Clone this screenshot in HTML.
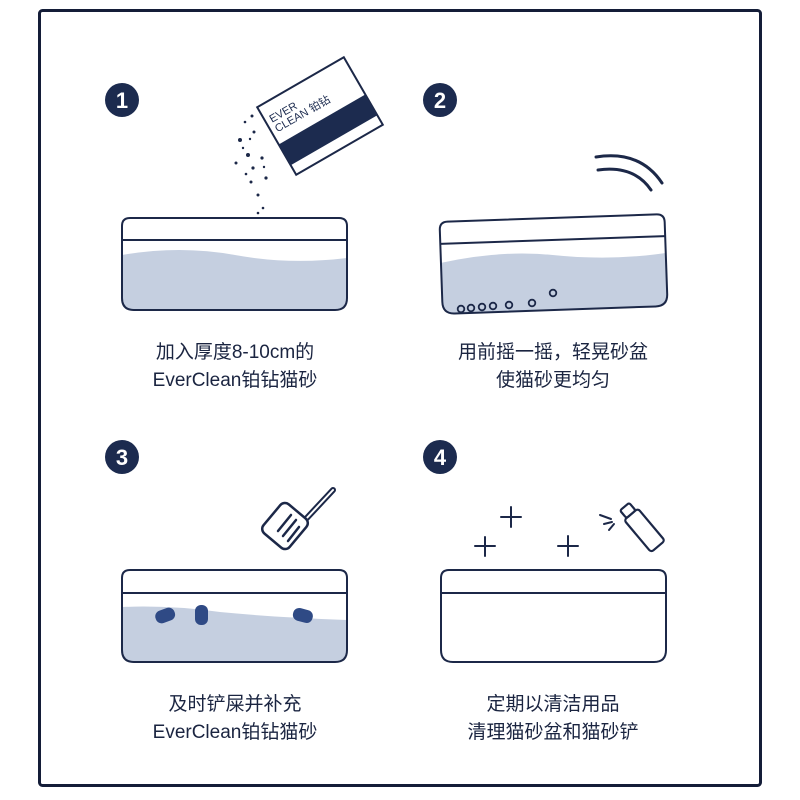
<!DOCTYPE html>
<html><head><meta charset="utf-8"><style>
html,body{margin:0;padding:0;background:#fff;width:800px;height:800px;overflow:hidden}
svg{display:block}
text{font-family:"Liberation Sans","Noto Sans CJK SC",sans-serif}
</style></head><body>
<svg width="800" height="800" viewBox="0 0 800 800" xmlns="http://www.w3.org/2000/svg">
<rect x="39.5" y="10.5" width="721" height="775" rx="3" fill="#fff" stroke="#141d38" stroke-width="3"/>
<g fill="#1c2b4f">
<circle cx="122" cy="100" r="17"/><circle cx="440" cy="100" r="17"/>
<circle cx="122" cy="457" r="17"/><circle cx="440" cy="457" r="17"/>
</g>
<g fill="#fff" font-size="22" font-weight="bold" text-anchor="middle">
<text x="122" y="108">1</text><text x="440" y="108">2</text>
<text x="122" y="465">3</text><text x="440" y="465">4</text>
</g>
<!-- box1 -->
<g stroke="#1c2848" stroke-width="2" fill="none">
<path d="M122,255 Q180,245 235,255 Q290,265 347,258 L347,298 Q347,310 335,310 L134,310 Q122,310 122,298 Z" fill="#c5cfe0" stroke="none"/>
<path d="M122,226 Q122,218 130,218 L339,218 Q347,218 347,226 L347,298 Q347,310 335,310 L134,310 Q122,310 122,298 Z"/>
<line x1="122" y1="240" x2="347" y2="240"/>
</g>
<!-- bag -->
<g transform="translate(320,116) rotate(-30)">
<rect x="-50" y="-39" width="100" height="78" fill="#fff" stroke="#1c2848" stroke-width="2"/>
<rect x="-50" y="4" width="100" height="24" fill="#1c2b4f"/>
<text x="-45" y="-18" font-size="11" fill="#1c2b4f" font-family="Liberation Serif,serif">EVER</text>
<text x="-45" y="-7" font-size="11" fill="#1c2b4f" font-family="Liberation Serif,serif">CLEAN 铂钻</text>
</g>
<g fill="#1c2848">
<circle cx="252" cy="116" r="1.5"/><circle cx="245" cy="122" r="1.3"/><circle cx="254" cy="132" r="1.5"/><circle cx="240" cy="140" r="2"/><circle cx="250" cy="139" r="1.2"/><circle cx="243" cy="148" r="1.2"/><circle cx="248" cy="155" r="2"/><circle cx="262" cy="158" r="1.6"/><circle cx="236" cy="163" r="1.5"/><circle cx="253" cy="168" r="1.6"/><circle cx="264" cy="167" r="1.2"/><circle cx="246" cy="174" r="1.3"/><circle cx="266" cy="178" r="1.6"/><circle cx="251" cy="182" r="1.5"/><circle cx="258" cy="195" r="1.5"/><circle cx="263" cy="208" r="1.3"/><circle cx="258" cy="213" r="1.3"/>
</g>
<!-- box2 tilted -->
<g transform="rotate(-2 553 262)" stroke="#1c2848" stroke-width="2" fill="none">
<path d="M441,259 Q500,248 553,255 Q610,263 666,257 L666,298 Q666,310 654,310 L453,310 Q441,310 441,298 Z" fill="#c5cfe0" stroke="none"/>
<path d="M441,226 Q441,218 449,218 L658,218 Q666,218 666,226 L666,298 Q666,310 654,310 L453,310 Q441,310 441,298 Z"/>
<line x1="441" y1="240" x2="666" y2="240"/>
</g>
<g stroke="#1c2848" stroke-width="1.8" fill="none">
<circle cx="461" cy="309" r="3.3"/><circle cx="471" cy="308" r="3.3"/><circle cx="482" cy="307" r="3.3"/><circle cx="493" cy="306" r="3.3"/><circle cx="509" cy="305" r="3.3"/><circle cx="532" cy="303" r="3.3"/><circle cx="553" cy="293" r="3.3"/>
</g>
<g stroke="#1c2848" stroke-width="3" fill="none" stroke-linecap="round">
<path d="M596,157 Q640,150 662,183"/><path d="M598,170 Q634,165 651,190"/>
</g>
<!-- box3 -->
<g stroke="#1c2848" stroke-width="2" fill="none">
<path d="M122,607 Q170,605 220,612 Q270,617 347,620 L347,650 Q347,662 335,662 L134,662 Q122,662 122,650 Z" fill="#c5cfe0" stroke="none"/>
<path d="M122,578 Q122,570 130,570 L339,570 Q347,570 347,578 L347,650 Q347,662 335,662 L134,662 Q122,662 122,650 Z"/>
<line x1="122" y1="593" x2="347" y2="593"/>
</g>
<g fill="#2f4a85">
<rect x="155" y="609" width="20" height="13" rx="6" transform="rotate(-20 165 615)"/>
<rect x="195" y="605" width="13" height="20" rx="6"/>
<rect x="293" y="609" width="20" height="13" rx="6" transform="rotate(15 303 615)"/>
</g>
<!-- scoop -->
<g stroke="#1c2848" stroke-width="2.5" fill="#fff" stroke-linecap="round">
<path d="M305,520 L333,490" stroke-width="6"/>
<path d="M305,520 L333,490" stroke="#fff" stroke-width="2"/>
<rect x="268" y="507" width="34" height="38" rx="6" transform="rotate(40 285 526)"/>
<line x1="278" y1="531" x2="291" y2="515"/><line x1="283" y1="536" x2="296" y2="520"/><line x1="288" y1="541" x2="299" y2="527"/>
</g>
<!-- box4 -->
<g stroke="#1c2848" stroke-width="2" fill="none">
<path d="M441,578 Q441,570 449,570 L658,570 Q666,570 666,578 L666,650 Q666,662 654,662 L453,662 Q441,662 441,650 Z"/>
<line x1="441" y1="593" x2="666" y2="593"/>
</g>
<g stroke="#1c2848" stroke-width="2" stroke-linecap="round">
<path d="M475,546 H495 M485,537 V556"/><path d="M501,517 H521 M511,507 V527"/><path d="M558,546 H578 M568,536 V556"/>
<path d="M600,515 L611,519 M604,524 L612,522 M609,530 L614,524"/>
</g>
<g transform="translate(640,525) rotate(-40)" stroke="#1c2848" stroke-width="2.2" fill="#fff">
<rect x="-9" y="-14" width="18" height="42" rx="3"/>
<rect x="-6" y="-24" width="12" height="10" rx="2"/>
</g>
<!-- texts -->
<g font-size="19" fill="#1a2440" text-anchor="middle">
<text x="235" y="358">加入厚度8-10cm的</text>
<text x="235" y="386">EverClean铂钻猫砂</text>
<text x="553" y="358">用前摇一摇，轻晃砂盆</text>
<text x="553" y="386">使猫砂更均匀</text>
<text x="235" y="710">及时铲屎并补充</text>
<text x="235" y="738">EverClean铂钻猫砂</text>
<text x="553" y="710">定期以清洁用品</text>
<text x="553" y="738">清理猫砂盆和猫砂铲</text>
</g>
</svg>
</body></html>
